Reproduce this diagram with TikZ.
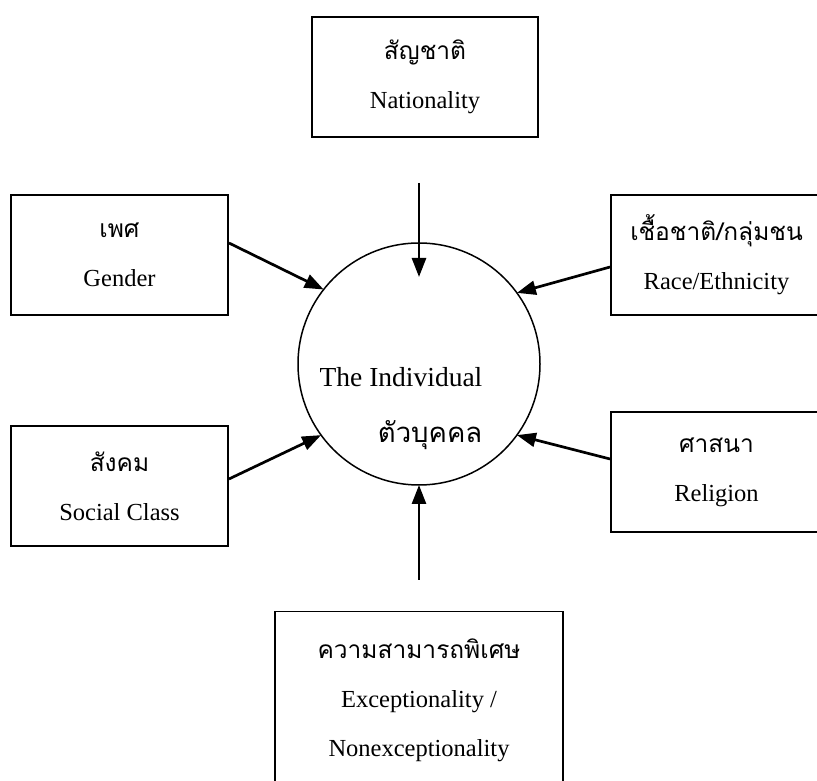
\documentclass[tikz,border=0pt]{standalone}
\usepackage{fontspec}
\setmainfont{Liberation Serif}
\newfontfamily\thaifont[Script=Thai]{Loma}
\usetikzlibrary{arrows.meta}

\begin{document}
\begin{tikzpicture}[
  x=1pt, y=1pt,
  font=\fontsize{24.5}{49}\selectfont,
  factor/.style={rectangle, draw, line width=1.9pt, align=center, inner sep=0pt, minimum width=217pt, minimum height=120pt},
  person/.style={circle, draw, line width=1.5pt, minimum size=242pt, inner sep=0pt, outer sep=0pt},
  flow/.style={-{Triangle[length=19pt, width=14pt]}, line width=2.7pt}
]
\useasboundingbox (0,0) rectangle (817,780);

\node (ind)     [person] at (419,416) {};
\node (indtext) [align=right, font=\fontsize{27.5}{56}\selectfont] at ([xshift=-18pt, yshift=-45pt]ind.center) {The Individual\\{\thaifont ตัวบุคคล}};

\node (nat)  [factor, minimum width=226pt] at (425,703)   {{\thaifont สัญชาติ}\\Nationality};
\node (gen)  [factor]                      at (119.5,525) {{\thaifont เพศ}\\Gender};
\node (race) [factor, minimum width=211pt] at (716.5,525) {{\thaifont เชื้อชาติ/กลุ่มชน}\\Race/Ethnicity};
\node (soc)  [factor]                      at (119.5,294) {{\thaifont สังคม}\\Social Class};
\node (rel)  [factor, minimum width=211pt] at (716.5,308) {{\thaifont ศาสนา}\\Religion};
\node (exc)  [factor, minimum width=288pt, minimum height=177pt] at (419,80) {{\thaifont ความสามารถพิเศษ}\\Exceptionality /\\Nonexceptionality};

\coordinate (natfoot) at (419,597);
\coordinate (excfoot) at (419,200);

\draw [flow] (natfoot) -- ([yshift=-34pt]ind.north);
\draw [flow] (excfoot) -- (ind.south);
\draw [flow] ([yshift=12pt]gen.east)   -- (ind.142.7);
\draw [flow] ([yshift=-12pt]race.west) -- (ind.36);
\draw [flow] ([yshift=7pt]soc.east)    -- (ind.216);
\draw [flow] ([yshift=13pt]rel.west)   -- (ind.324);
\end{tikzpicture}
\end{document}
